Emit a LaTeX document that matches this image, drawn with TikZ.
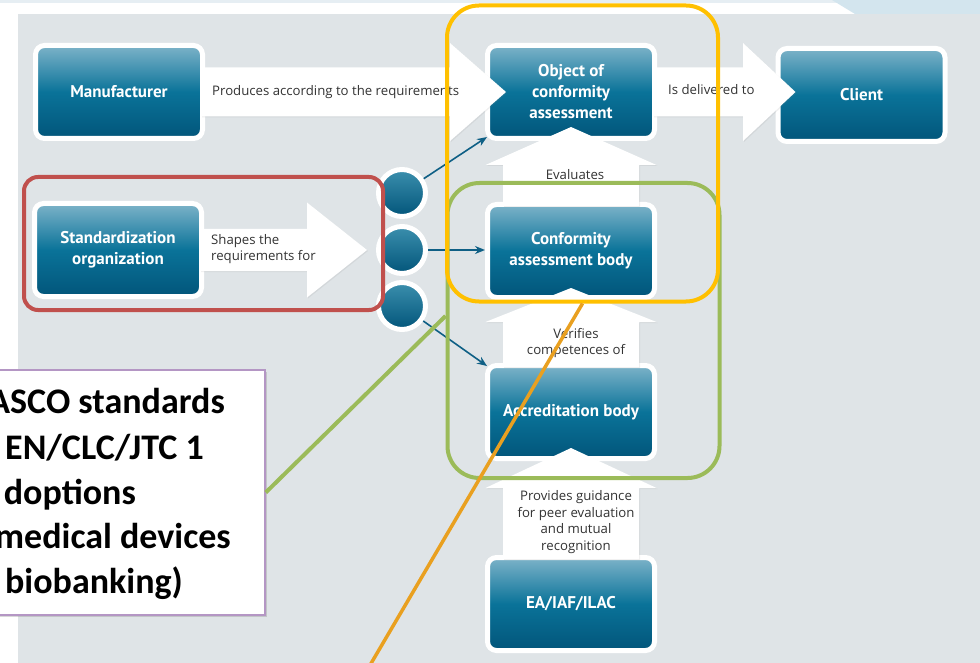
\documentclass[tikz,border=0pt]{standalone}
\usepackage{fontspec}
\setmainfont{Open Sans}
\newfontfamily\boxfont{PT Sans}
\newfontfamily\notefont{Carlito}
\usepackage{tikz}
\usetikzlibrary{shadows}
\usetikzlibrary{arrows.meta,shapes}
\usetikzlibrary{calc}
\definecolor{panelgray}{HTML}{DFE4E7}
\definecolor{topblue}{HTML}{E6EEF3}
\definecolor{topdiag}{HTML}{D3E5EE}
\definecolor{boxtop}{HTML}{7DB3C9}
\definecolor{boxmid}{HTML}{0A7399}
\definecolor{boxbottom}{HTML}{02557A}
\definecolor{linkblue}{HTML}{0E5F85}
\definecolor{labelgray}{HTML}{333333}
\definecolor{hlred}{HTML}{C0504D}
\definecolor{hlyellow}{HTML}{FFC000}
\definecolor{hlgreen}{HTML}{9BBB59}
\definecolor{hlorange}{HTML}{E9A020}
\definecolor{notepurple}{HTML}{B496C4}
\tikzstyle{bluebox}=[rectangle,rounded corners=9pt,draw=white,line width=5pt,top color=boxtop,bottom color=boxbottom,middle color=boxmid,minimum width=167pt,minimum height=93pt,inner sep=0pt,align=center,text=white,font=\boxfont\bfseries\fontsize{17}{21}\selectfont,drop shadow={opacity=0.15,shadow xshift=1.2pt,shadow yshift=-1.2pt}]
\tikzstyle{joint}=[circle,draw=white,line width=5pt,top color=boxmid!80!white,bottom color=boxbottom,minimum size=47pt,inner sep=0pt,drop shadow={opacity=0.15,shadow xshift=1pt,shadow yshift=-1pt}]
\tikzstyle{blockarrow}=[fill=white,drop shadow={opacity=0.12,shadow xshift=1pt,shadow yshift=-1pt}]
\tikzstyle{link}=[draw=linkblue,line width=1.6pt,-{Stealth[length=10pt,width=8pt]}]
\tikzstyle{lbl}=[font=\fontsize{13.2}{16.6}\selectfont,text=labelgray,inner sep=0pt,align=center]
\tikzstyle{hlbox}=[rectangle,draw,line width=4pt,inner sep=0pt]
\tikzstyle{notetext}=[anchor=base east,inner sep=0pt,font=\notefont\bfseries\fontsize{36}{40}\selectfont]

\begin{document}
\begin{tikzpicture}[x=1pt,y=-1pt]
\useasboundingbox (0,0) rectangle (980,663);

% Background
\fill[white] (0,0) rectangle (980,663);
\fill[topblue] (0,0) rectangle (980,3);
\fill[topdiag] (832,0) -- (980,0) -- (980,14) -- (855,14) -- cycle;
\fill[panelgray] (18,14) rectangle (980,663);

% Boxes
    \foreach \pos/\name/\label in {{(119,92)/manu/Manufacturer}, {(571,92)/obj/Object of\\conformity\\assessment}, {(861.5,95)/client/Client}, {(118,250)/std/Standardization\\organization}, {(571,251)/cab/Conformity\\assessment body}, {(571,412)/acc/Accreditation body}, {(571,604)/ea/{EA/IAF/ILAC}}}
        \node[bluebox] (\name) at \pos {\label};

% Joints
    \foreach \pos/\name in {{(402,193)/c1}, {(402,250)/c2}, {(402,306)/c3}}
        \node[joint] (\name) at \pos {};

% Block arrows
\fill[blockarrow] ($(manu.east)+(-4,-24.5)$) -- ++(249,0) -- ++(0,-24.5) -- ($(obj.west)+(21,0)$) -- ($(manu.east)+(245,49)$) -- ++(0,-24.5) -- ++(-249,0) -- cycle;
\fill[blockarrow] ($(obj.east)+(-4,-24.5)$) -- ++(90,0) -- ++(0,-24.5) -- ($(client.west |- obj.east)+(20,0)$) -- ($(obj.east)+(86,49)$) -- ++(0,-24.5) -- ++(-90,0) -- cycle;
\fill[blockarrow] ($(std.east)+(-4,-21)$) -- ++(107,0) -- ++(0,-26.5) -- ($(c2.west)+(-9,0)$) -- ($(std.east)+(103,47.5)$) -- ++(0,-26.5) -- ++(-107,0) -- cycle;
\fill[blockarrow] ($(cab.north)+(-68,4)$) -- ++(0,-41) -- ++(-17.5,0) -- ($(obj.south)+(0,-14)$) -- ($(cab.north)+(85.5,-37)$) -- ++(-17.5,0) -- ++(0,41) -- cycle;
\fill[blockarrow] ($(acc.north)+(-68,4)$) -- ++(0,-45) -- ++(-17.5,0) -- ($(cab.south)+(0,-12)$) -- ($(acc.north)+(85.5,-41)$) -- ++(-17.5,0) -- ++(0,45) -- cycle;
\fill[blockarrow] ($(ea.north)+(-68,4)$) -- ++(0,-71) -- ++(-17.5,0) -- ($(acc.south)+(0,-13)$) -- ($(ea.north)+(85.5,-67)$) -- ++(-17.5,0) -- ++(0,71) -- cycle;

% Labels
\node[lbl,anchor=west] (produces) at (212,92) {Produces according to the requirements};
\node[lbl,anchor=west] (delivered) at (668,90) {Is delivered to};
\node[lbl,anchor=west,align=left] (shapes) at (211,249) {Shapes the\\requirements for};
\node[lbl] (evaluates) at (575,175) {Evaluates};
\node[lbl] (verifies) at (576,343) {Verifies\\competences of};
\node[lbl] (provides) at (576,522) {Provides guidance\\for peer evaluation\\and mutual\\recognition};

% Links
\draw[link] (c1) -- ($(obj.south west)+(2,-4)$);
\draw[link] (c2) -- (c2 -| cab.west);
\draw[link] (c3) -- ($(acc.north west)+(2,3)$);

% Highlights
\node[hlbox,draw=hlred,rounded corners=14pt,minimum width=359pt,minimum height=133pt] (redbox) at (203.5,243.5) {};
\node[hlbox,draw=hlgreen,rounded corners=32pt,minimum width=272pt,minimum height=295pt] (greenbox) at (583.5,330.5) {};
\node[hlbox,draw=hlyellow,rounded corners=32pt,minimum width=271pt,minimum height=296pt] (yellowbox) at (582.5,153.5) {};

% Note
\node[rectangle,fill=white,draw=notepurple,line width=1.5pt,minimum width=285pt,minimum height=245pt,inner sep=0pt,drop shadow={opacity=0.3,shadow xshift=2pt,shadow yshift=-2pt}] (note) at (122.5,492.5) {};
    \foreach \yy/\xx/\txt [count=\i] in {413/225/{ASCO standards}, 459/204/{EN/CLC/JTC 1}, 504/136/{doptions}, 548/231/{medical devices}, 593/183/{biobanking)}}
        \node[notetext] (noteline\i) at (\xx,\yy) {\txt};

\coordinate (greenend) at ($(greenbox.north west)+(0,135)$);
\coordinate (orangefoot) at (366,672);
\draw[hlgreen,line width=4pt] (note.east) -- (greenend);
\draw[hlorange,line width=3.5pt] (orangefoot) -- (yellowbox.south);

\end{tikzpicture}
\end{document}
